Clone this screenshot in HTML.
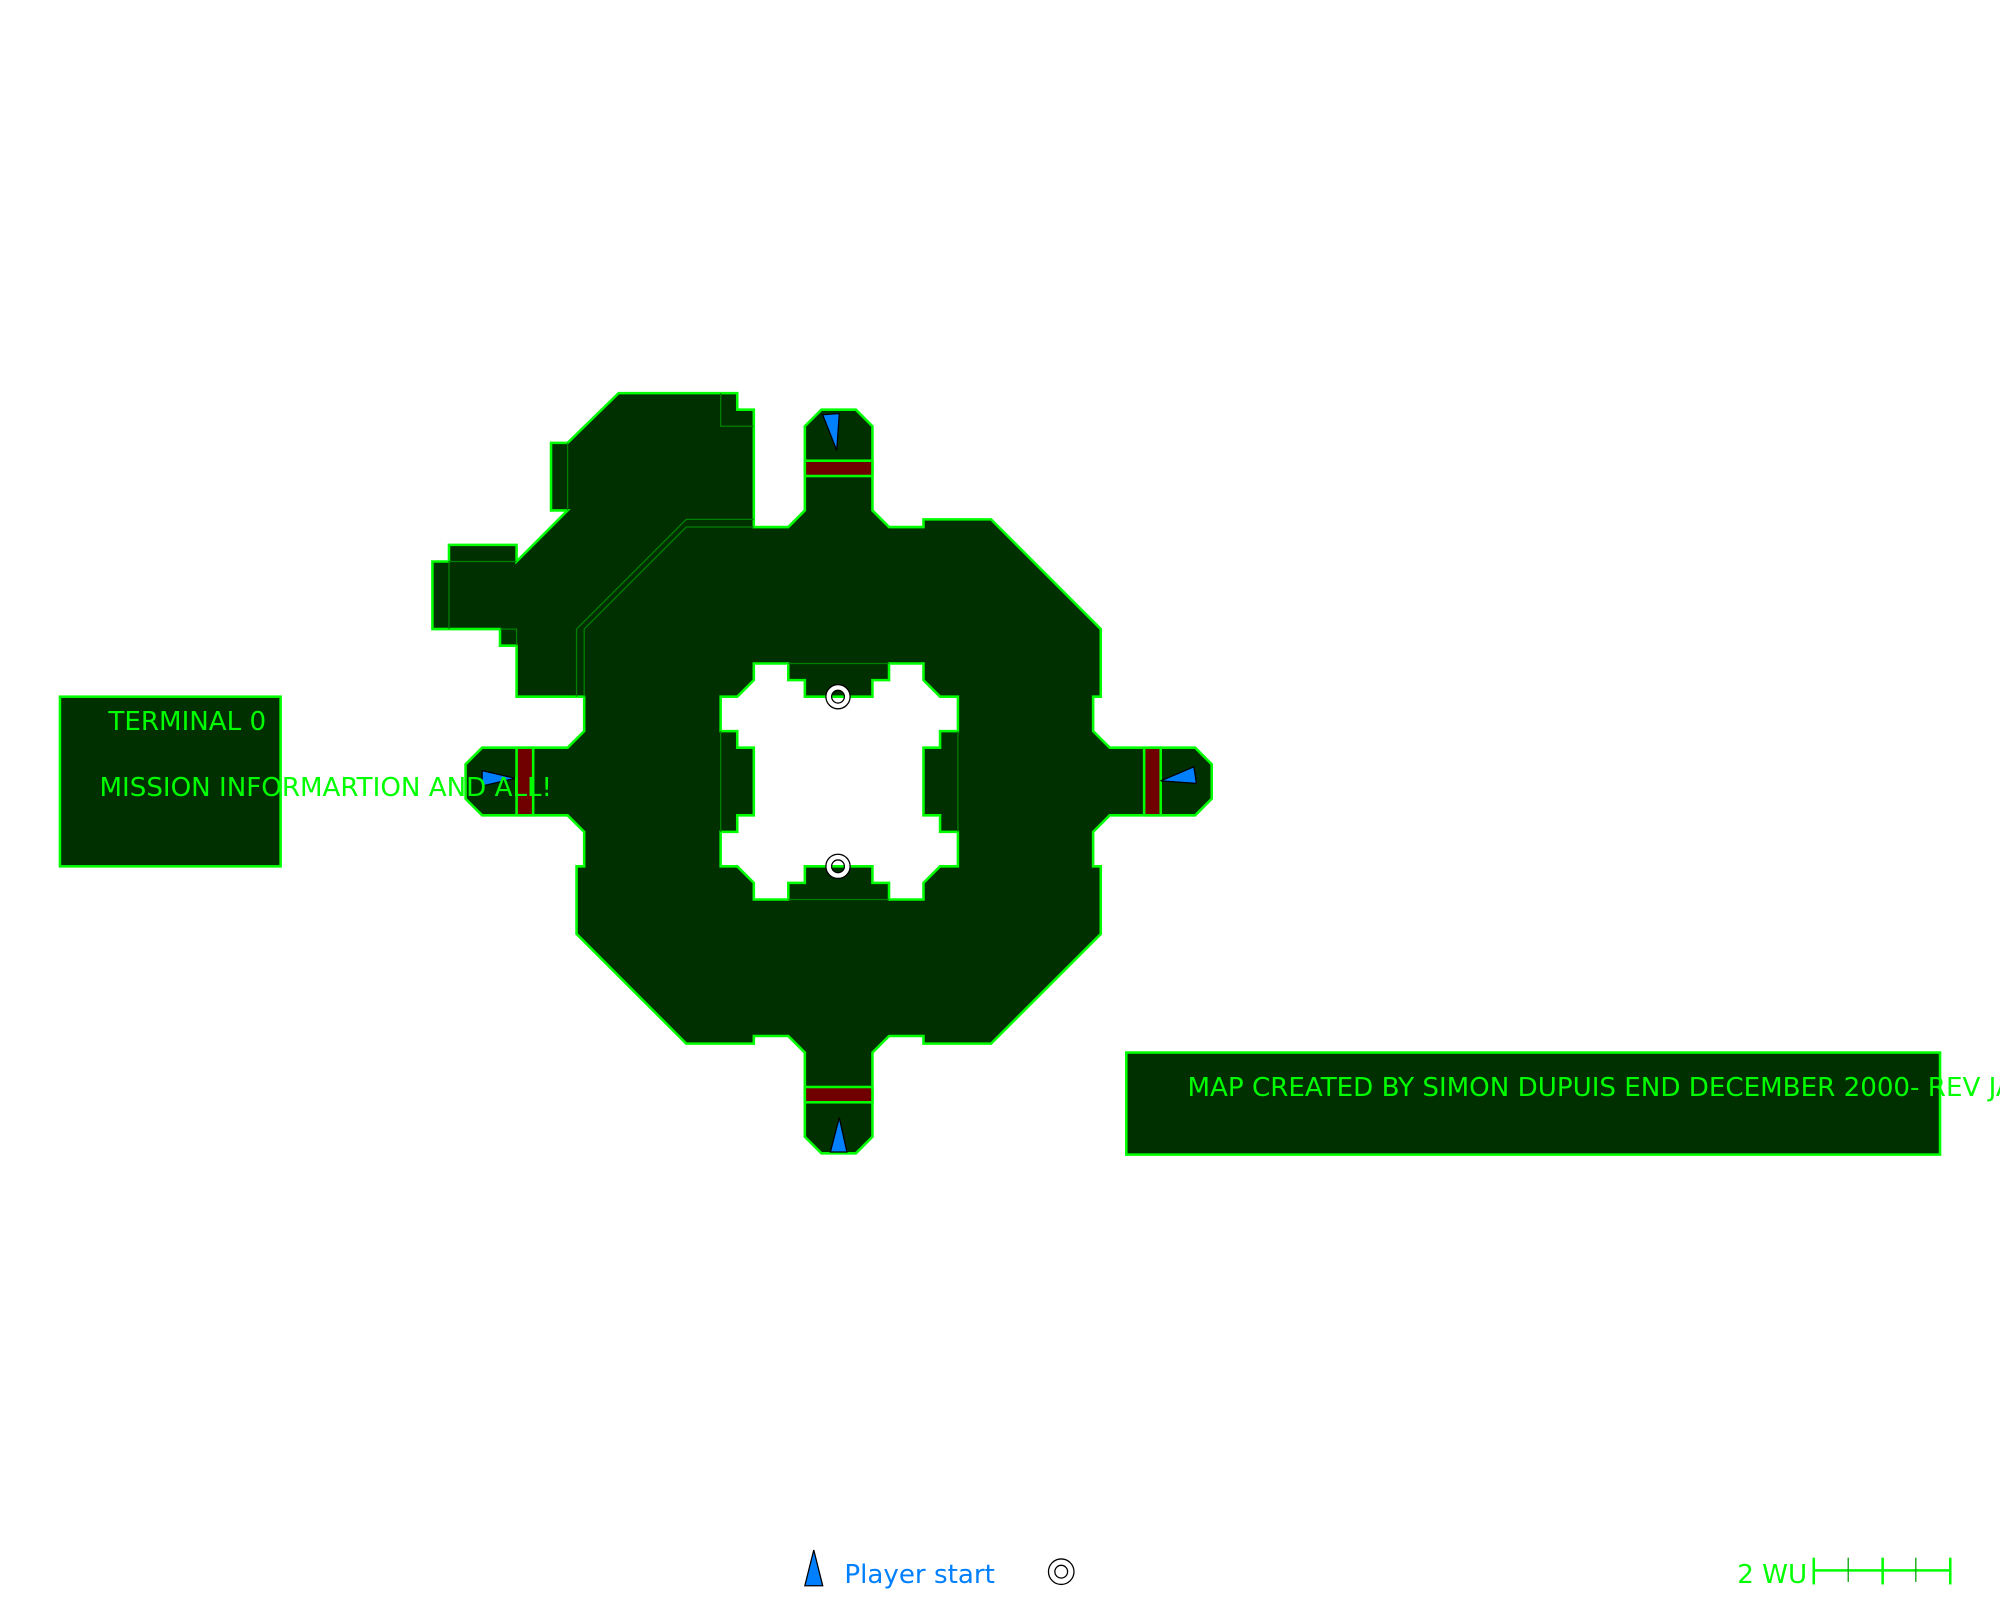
<!DOCTYPE html>
<html><head><meta charset="utf-8"><style>html,body{margin:0;padding:0;background:#fff}svg{display:block}</style></head>
<body>
<svg width="2000" height="1600" viewBox="0 0 1568 1254" xmlns="http://www.w3.org/2000/svg" font-family="DejaVu Sans, Liberation Sans, sans-serif">
<rect width="1568" height="1254" fill="#fff"/>
<path fill="#003000" stroke="#00ff00" stroke-width="2" fill-rule="evenodd" d="
M485,308 L578,308 L578,321 L591,321 L591,413 L618,413 L631,400 L631,334 L644,321 L671,321 L684,334 L684,400 L697,413 L724,413 L724,407 L777,407 L863,493 L863,546 L857,546 L857,573 L870,586 L937,586 L950,599 L950,626 L937,639 L870,639 L857,652 L857,679 L863,679 L863,732 L777,818 L724,818 L724,812 L697,812 L684,825 L684,891 L671,904 L644,904 L631,891 L631,825 L618,812 L591,812 L591,818 L538,818 L452,732 L452,679 L458,679 L458,652 L445,639 L378,639 L365,626 L365,599 L378,586 L445,586 L458,573 L458,546 L405,546 L405,506 L392,506 L392,493 L339,493 L339,440 L352,440 L352,427 L405,427 L405,440 L445,400 L432,400 L432,347 L445,347 Z
M591,520 L618,520 L618,533 L631,533 L631,546 L684,546 L684,533 L697,533 L697,520 L724,520 L724,533 L737,546 L751,546 L751,573 L737,573 L737,586 L724,586 L724,639 L737,639 L737,652 L751,652 L751,679 L737,679 L724,692 L724,705 L697,705 L697,692 L684,692 L684,679 L631,679 L631,692 L618,692 L618,705 L591,705 L591,692 L578,679 L565,679 L565,652 L578,652 L578,639 L591,639 L591,586 L578,586 L578,573 L565,573 L565,546 L578,546 L591,533 Z"/>
<g fill="none" stroke="#008000" stroke-width="1">
<path d="M565,308 L565,334 L591,334"/>
<path d="M445,347 L445,400"/>
<path d="M405,440 L352,440 L352,493"/>
<path d="M392,493 L405,493 L405,506"/>
<path d="M591,407 L538,407 L452,493 L452,546"/>
<path d="M591,413 L538,413 L458,493 L458,546"/>
<path d="M618,520 L697,520 M618,705 L697,705 M565,573 L565,652 M751,573 L751,652"/>
</g>
<g fill="#700000" stroke="#00ff00" stroke-width="2">
<rect x="631" y="361" width="53" height="12"/>
<rect x="631" y="852" width="53" height="12"/>
<rect x="405" y="586" width="13" height="53"/>
<rect x="897" y="586" width="13" height="53"/>
</g>
<g fill="#0080ff" stroke="#000" stroke-width="1">
<polygon points="645,325 658,324 656,353"/>
<polygon points="651,903 664,903 658,876"/>
<polygon points="378,604 404,610 378,616"/>
<polygon points="936,601 938,614 910,612"/>
<polygon points="631,1243 645,1243 638,1215"/>
</g>
<g fill="#fff" stroke="#000" stroke-width="1" fill-rule="evenodd">
<path d="M647.5,546a9.5,9.5 0 1,0 19,0a9.5,9.5 0 1,0 -19,0Z M652,546a5,5 0 1,0 10,0a5,5 0 1,0 -10,0Z"/>
<path d="M647.5,679a9.5,9.5 0 1,0 19,0a9.5,9.5 0 1,0 -19,0Z M652,679a5,5 0 1,0 10,0a5,5 0 1,0 -10,0Z"/>
<circle cx="832" cy="1232" r="10"/><circle cx="832" cy="1232" r="5"/>
</g>
<rect x="47" y="546" width="173" height="133" fill="#003000" stroke="#00ff00" stroke-width="2"/>
<rect x="883" y="825" width="638" height="80" fill="#003000" stroke="#00ff00" stroke-width="2"/>
<g fill="#00ff00" font-size="20.5">
<text x="85" y="572">TERMINAL 0</text>
<text x="78" y="624">MISSION INFORMARTION AND ALL!</text>
<text x="931" y="859">MAP CREATED BY SIMON DUPUIS END DECEMBER 2000- REV JAN</text>
<text x="1362" y="1241">2 WU</text>
</g>
<text x="662" y="1241" fill="#0080ff" font-size="20.5">Player start</text>
<g stroke="#00ff00" stroke-width="2">
<line x1="1422" y1="1231" x2="1529" y2="1231"/>
<line x1="1422" y1="1221" x2="1422" y2="1242"/>
<line x1="1529" y1="1221" x2="1529" y2="1242"/>
<line x1="1476" y1="1221" x2="1476" y2="1242"/>
</g>
<g stroke="#00a000" stroke-width="1">
<line x1="1449" y1="1221" x2="1449" y2="1240"/>
<line x1="1502" y1="1221" x2="1502" y2="1240"/>
</g>
</svg>
</body></html>
